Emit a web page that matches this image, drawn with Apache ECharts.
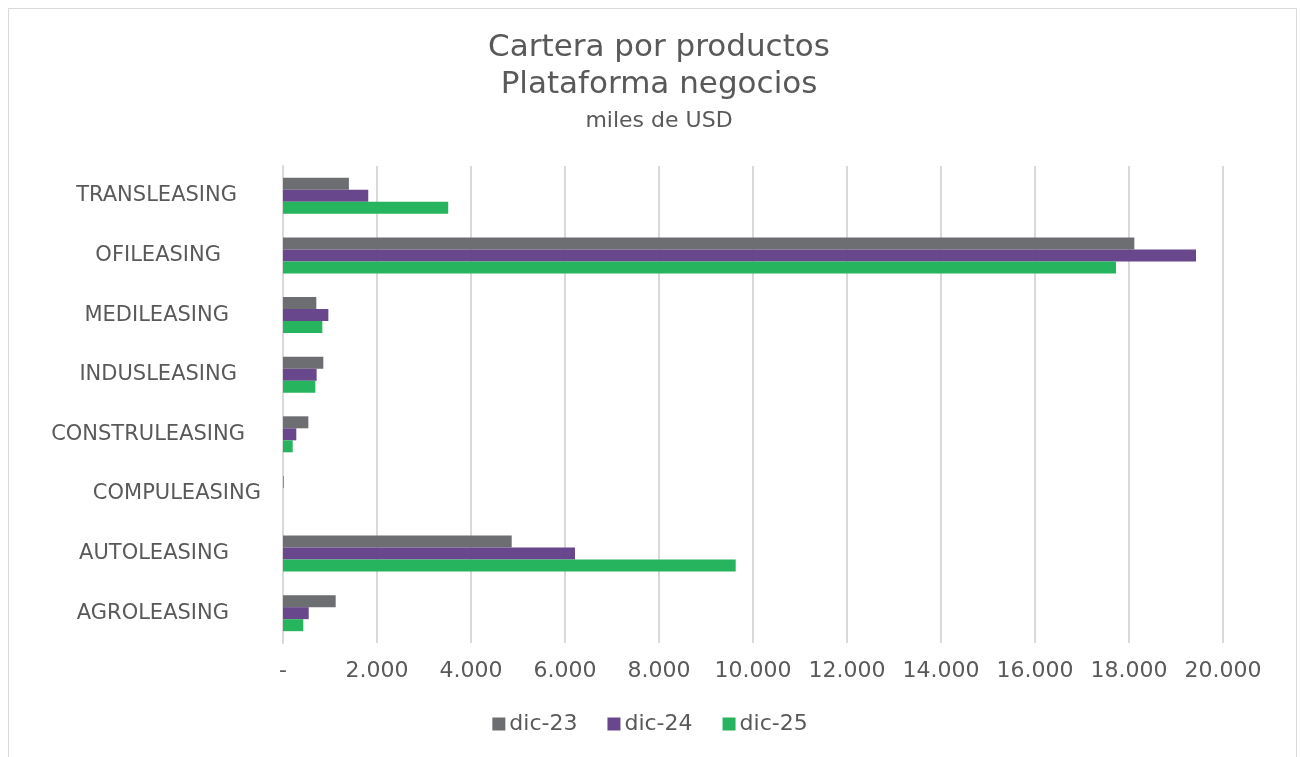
<!DOCTYPE html>
<html>
<head>
<meta charset="utf-8">
<script src="https://cdn.jsdelivr.net/npm/echarts@6/dist/echarts.min.js"></script>
<style>
html,body{margin:0;padding:0;background:#fff;}
#chart{width:1300px;height:757px;}
</style>
</head>
<body>
<div id="chart"></div>
<script>
// Categories listed bottom to top
const categories = ['AGROLEASING','AUTOLEASING','COMPULEASING','CONSTRULEASING','INDUSLEASING','MEDILEASING','OFILEASING','TRANSLEASING'];
const seriesNames = ['dic-23','dic-24','dic-25'];
const dic23 = [1121, 4866, 15, 539, 858, 709, 18113, 1402];
const dic24 = [547, 6213, 0, 283, 716, 965, 19426, 1814];
const dic25 = [432, 9632, 0, 206, 688, 837, 17723, 3515];
const xTicks = [0, 2000, 4000, 6000, 8000, 10000, 12000, 14000, 16000, 18000, 20000];

const txt = '#595959';
const font = 'DejaVu Sans';
const colors = {'dic-23':'#6d6e71','dic-24':'#68478d','dic-25':'#27b45e'};
const values = {'dic-23':dic23,'dic-24':dic24,'dic-25':dic25};
// extra right padding per category label (mimics trailing spaces in source)
const labelPad = {AGROLEASING:32,AUTOLEASING:32,COMPULEASING:0,CONSTRULEASING:16,INDUSLEASING:24,MEDILEASING:32,OFILEASING:40,TRANSLEASING:24};

function fmt(v){
  if (v === 0) return '-';
  return String(v).replace(/\B(?=(\d{3})+(?!\d))/g, '.');
}

const rich = {};
categories.forEach((c,i)=>{ rich['p'+i] = {padding:[0,labelPad[c],0,0], fontSize:21, color:txt, fontFamily:font}; });

const chart = echarts.init(document.getElementById('chart'));
// first series is drawn at the top of each group
const series = seriesNames.map(n => ({
  name:n, type:'bar', data: values[n], barWidth:12, barGap:'0%',
  itemStyle:{color:colors[n]}
}));

chart.setOption({
  animation:false,
  backgroundColor:'#fff',
  textStyle:{fontFamily:font},
  title:[
    {text:'Cartera por productos\nPlataforma negocios', left:654, textAlign:'center', top:24,
     textStyle:{fontSize:31, fontWeight:'normal', color:txt, fontFamily:font, lineHeight:37}},
    {text:'miles de USD', left:654, textAlign:'center', top:105,
     textStyle:{fontSize:22, fontWeight:'normal', color:txt, fontFamily:font}}
  ],
  graphic:[{type:'rect', shape:{x:8.5,y:8.5,width:1288,height:770}, style:{fill:'none', stroke:'#d9d9d9', lineWidth:1}, silent:true}],
  legend:{
    data:seriesNames, bottom:17, left:'center', itemWidth:13, itemHeight:13, itemGap:30,
    icon:'rect', textStyle:{fontSize:22, color:txt, fontFamily:font, padding:[0,0,0,-1]}
  },
  grid:{left:283, right:77, top:166, bottom:114, containLabel:false},
  xAxis:{
    type:'value', min:0, max:20000, interval:2000,
    axisLine:{show:false}, axisTick:{show:false},
    splitLine:{show:true, lineStyle:{color:'#d9d9d9', width:2}},
    axisLabel:{formatter:fmt, fontSize:22, color:txt, fontFamily:font, margin:17}
  },
  yAxis:{
    type:'category', data:categories,
    axisLine:{show:true, lineStyle:{color:'#d9d9d9', width:2}}, axisTick:{show:false},
    axisLabel:{fontSize:21, color:txt, fontFamily:font, margin:22,
      formatter:(v,i)=>'{p'+i+'|'+v+'}', rich:rich}
  },
  series:series
});
</script>
</body>
</html>
